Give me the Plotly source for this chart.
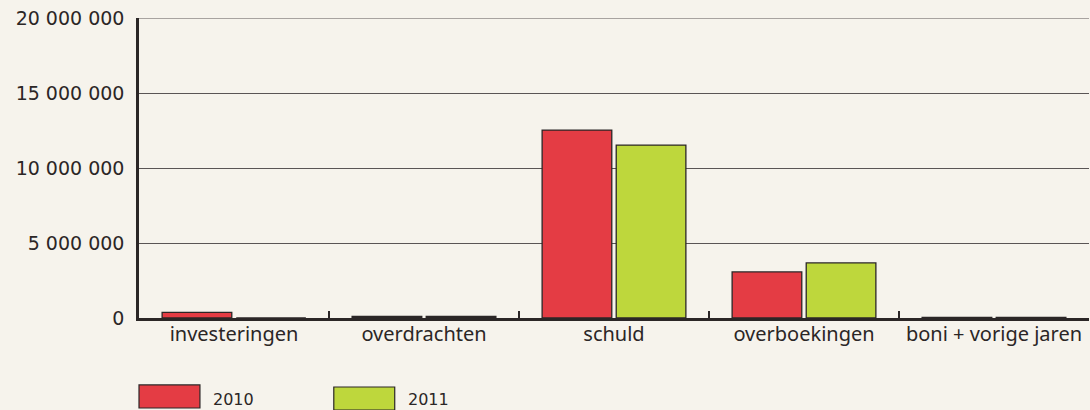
import plotly.graph_objects as go

categories = ["investeringen", "overdrachten", "schuld", "overboekingen", "boni + vorige jaren"]
years = ["2010", "2011"]
values_2010 = [370000, 100000, 12530000, 3070000, 40000]
values_2011 = [0, 100000, 11530000, 3670000, 40000]
y_ticks = [0, 5000000, 10000000, 15000000, 20000000]

colors = ["#E43C44", "#BED73C"]
bg = "#F6F3EC"
ink = "#2B2626"
grid = "#5A5555"

fig = go.Figure()
for name, vals, col in zip(years, [values_2010, values_2011], colors):
    fig.add_trace(go.Bar(
        x=categories, y=vals, name=name,
        marker=dict(color=col, line=dict(color=ink, width=1.3)),
        showlegend=False,
    ))

fig.update_layout(
    width=1090, height=410,
    margin=dict(l=139, r=1, t=18, b=92, autoexpand=False),
    paper_bgcolor=bg, plot_bgcolor=bg,
    barmode="group", bargap=0.22, bargroupgap=0.06,
    separators=", ",
    font=dict(family="Noto Sans", color=ink),
)
fig.update_xaxes(
    showline=True, linecolor=ink, linewidth=2.5,
    ticks="inside", tickson="boundaries", ticklen=7, tickwidth=2, tickcolor=ink,
    tickfont=dict(size=20, color=ink, family="Noto Sans"),
    ticklabelstandoff=-4,
    showgrid=False,
)
fig.update_yaxes(
    range=[0, y_ticks[-1]], tickvals=y_ticks, tickformat=",d",
    showline=True, linecolor=ink, linewidth=2.5,
    showgrid=True, gridcolor=grid, gridwidth=1,
    zeroline=False, ticks="", ticklabelstandoff=8,
    tickfont=dict(size=19, color=ink, family="DejaVu Sans"),
)

# top gridline (at the range edge)
fig.add_shape(type="line", xref="paper", yref="y", x0=0, x1=1,
              y0=y_ticks[-1], y1=y_ticks[-1], line=dict(color=grid, width=1.2),
              layer="below")

# legend swatches
legend_x = [0, 195/951]
legend_y = [(-0.300, -0.223), (-0.307, -0.230)]
for i, (name, col) in enumerate(zip(years, colors)):
    x0 = legend_x[i]
    y0, y1 = legend_y[i]
    fig.add_shape(type="rect", xref="paper", yref="paper",
                  x0=x0, x1=x0 + 61/951, y0=y0, y1=y1,
                  fillcolor=col, line=dict(color=ink, width=1.2))
    fig.add_annotation(xref="paper", yref="paper", x=x0 + 72/951, y=-0.27,
                       text=name, showarrow=False, xanchor="left", yanchor="middle",
                       font=dict(size=16, color=ink, family="DejaVu Sans"))

fig.write_html(
    "out.html",
    config={"displayModeBar": False},
    post_script="document.body.style.margin='0';document.body.style.background='#F6F3EC';",
)
